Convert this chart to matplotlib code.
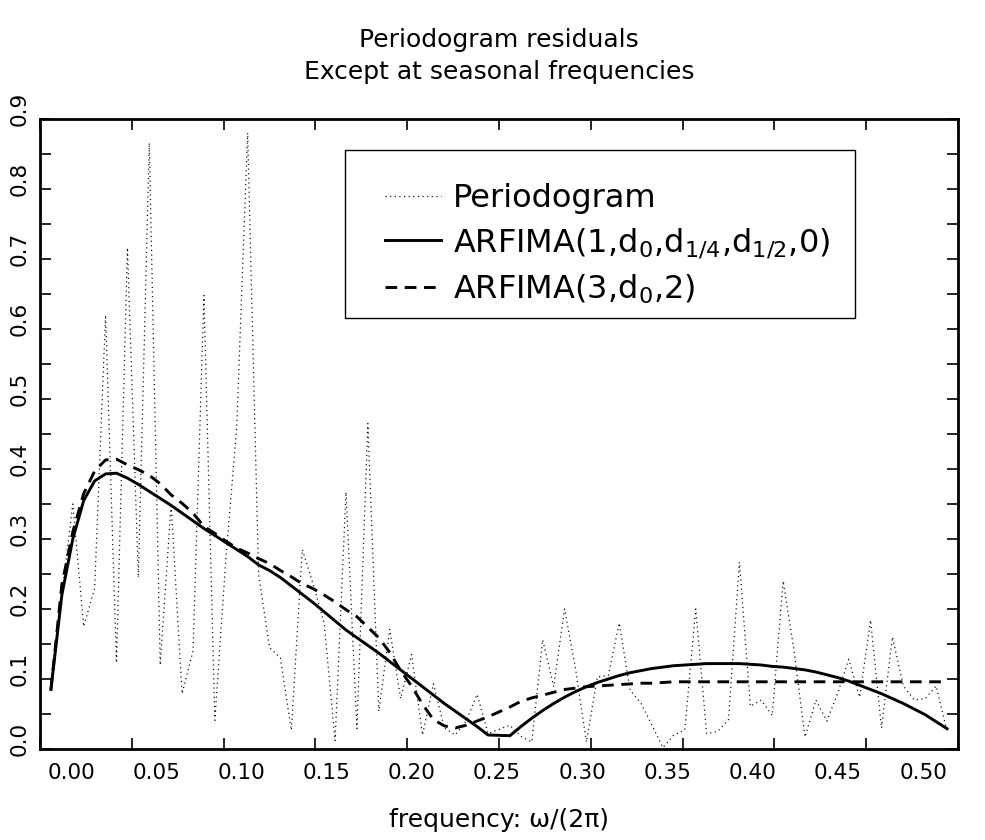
import matplotlib.pyplot as plt
from matplotlib.patches import Rectangle
import numpy as np

# Fourier frequencies j/168, seasonal frequency 1/4 (j=42) left out
freq_idx = [j for j in range(1, 84) if j != 42]
freq = np.array(freq_idx) / 168.0

periodogram = [0.10, 0.22, 0.35, 0.175, 0.23, 0.62, 0.123, 0.716, 0.245, 0.866,
               0.12, 0.35, 0.079, 0.14, 0.648, 0.041, 0.27, 0.46, 0.88, 0.25,
               0.145, 0.13, 0.027, 0.285, 0.235, 0.18, 0.012, 0.367, 0.029, 0.465,
               0.054, 0.171, 0.072, 0.135, 0.02, 0.093, 0.03, 0.02, 0.04, 0.078,
               0.022,
               0.034, 0.018, 0.01, 0.156, 0.089, 0.2, 0.115, 0.01, 0.103,
               0.105, 0.18, 0.084, 0.065, 0.034, 0.002, 0.02, 0.027, 0.2, 0.022,
               0.025, 0.042, 0.267, 0.061, 0.07, 0.048, 0.24, 0.14, 0.017, 0.07,
               0.04, 0.08, 0.128, 0.074, 0.184, 0.03, 0.16, 0.09, 0.07, 0.072,
               0.09, 0.025]

arfima_seas = [0.085, 0.22, 0.30, 0.355, 0.383, 0.393, 0.394, 0.387, 0.378, 0.368,
               0.358, 0.348, 0.337, 0.326, 0.315, 0.305, 0.295, 0.285, 0.275, 0.263,
               0.255, 0.245, 0.233, 0.221, 0.209, 0.196, 0.183, 0.170, 0.159, 0.148,
               0.137, 0.125, 0.113, 0.101, 0.089, 0.077, 0.065, 0.054, 0.043, 0.032,
               0.020,
               0.019, 0.032, 0.044, 0.055, 0.065, 0.074, 0.082, 0.089, 0.095,
               0.100, 0.105, 0.109, 0.112, 0.115, 0.117, 0.119, 0.120, 0.121, 0.122,
               0.122, 0.122, 0.122, 0.121, 0.120, 0.118, 0.117, 0.115, 0.113, 0.110,
               0.106, 0.102, 0.097, 0.091, 0.085, 0.079, 0.072, 0.065, 0.057, 0.049,
               0.039, 0.029]

arfima_32 = [0.085, 0.235, 0.31, 0.365, 0.397, 0.413, 0.414, 0.406, 0.399, 0.391,
             0.379, 0.363, 0.351, 0.337, 0.318, 0.308, 0.297, 0.287, 0.28, 0.272,
             0.265, 0.255, 0.246, 0.236, 0.229, 0.22, 0.21, 0.199, 0.189, 0.174,
             0.159, 0.138, 0.112, 0.09, 0.064, 0.042, 0.033, 0.03, 0.034, 0.04,
             0.046,
             0.06, 0.068, 0.073, 0.077, 0.081, 0.085, 0.087, 0.089, 0.09,
             0.091, 0.092, 0.093, 0.094, 0.094, 0.095, 0.096, 0.096, 0.096, 0.096,
             0.096, 0.096, 0.096, 0.096, 0.096, 0.096, 0.096, 0.096, 0.096, 0.096,
             0.096, 0.096, 0.096, 0.096, 0.096, 0.096, 0.096, 0.096, 0.096, 0.096,
             0.096, 0.096]

xtick_labels = ['0.00', '0.05', '0.10', '0.15', '0.20', '0.25',
                '0.30', '0.35', '0.40', '0.45', '0.50']
ytick_labels = ['0.0', '0.1', '0.2', '0.3', '0.4', '0.5', '0.6', '0.7', '0.8', '0.9']

plt.rcParams['font.family'] = ['DejaVu Sans']
plt.rcParams['mathtext.fontset'] = 'dejavusans'
plt.rcParams['mathtext.default'] = 'regular'

fig = plt.figure(figsize=(9.85, 8.4), dpi=100)
ax = fig.add_axes([40 / 985, 91 / 840, 918 / 985, 630 / 840])

ax.plot(freq, periodogram, color='black', lw=0.9, ls=(0, (0.9, 2.8)),
        label='Periodogram')
ax.plot(freq, arfima_seas, color='black', lw=2.1,
        label=r'ARFIMA(1,d$_{0}$,d$_{1/4}$,d$_{1/2}$,0)')
ax.plot(freq, arfima_32, color='black', lw=2.1, ls=(0, (4.0, 2.6)),
        label=r'ARFIMA(3,d$_{0}$,2)')

ax.set_xlim(0, 0.5)
ax.set_ylim(0, 0.9)
ax.set_xticks(np.arange(0, 0.501, 0.05))
ax.set_yticks(np.arange(0, 0.901, 0.05))
ax.tick_params(direction='in', length=8, width=1.2, top=True, right=True,
               labelbottom=False, labelleft=False)
for s in ax.spines.values():
    s.set_linewidth(2.0)

# tick labels sit a little off the tick marks, as in the original plot
for i, lab in enumerate(xtick_labels):
    ax.text(0.0338 + 0.09283 * i, -0.038, lab, transform=ax.transAxes,
            ha='center', va='center', fontsize=15.5)
for i, lab in enumerate(ytick_labels):
    ax.text(-0.022, (i * 0.1 + 0.015) / 0.9, lab, transform=ax.transAxes,
            ha='center', va='center', fontsize=15.5, rotation=90)

fig.text(499 / 985, 1 - 40 / 840, 'Periodogram residuals', ha='center',
         va='center', fontsize=18)
fig.text(499 / 985, 1 - 72 / 840, 'Except at seasonal frequencies', ha='center',
         va='center', fontsize=18)
fig.text(499 / 985, 1 - 820 / 840, 'frequency: ω/(2π)', ha='center',
         va='center', fontsize=18)

# legend box drawn separately, entries placed inside it
fig.patches.append(Rectangle((345 / 985, 1 - 318 / 840), 510 / 985, 168 / 840,
                             transform=fig.transFigure, fill=False,
                             edgecolor='black', lw=1.0, zorder=5))
leg = ax.legend(loc='upper left', bbox_to_anchor=(385 / 985, 1 - 183 / 840),
                bbox_transform=fig.transFigure, fontsize=23, frameon=False,
                handlelength=1.75, handletextpad=0.37, borderpad=0,
                labelspacing=0.39, borderaxespad=0)

fig.savefig('out.png', dpi=100)
